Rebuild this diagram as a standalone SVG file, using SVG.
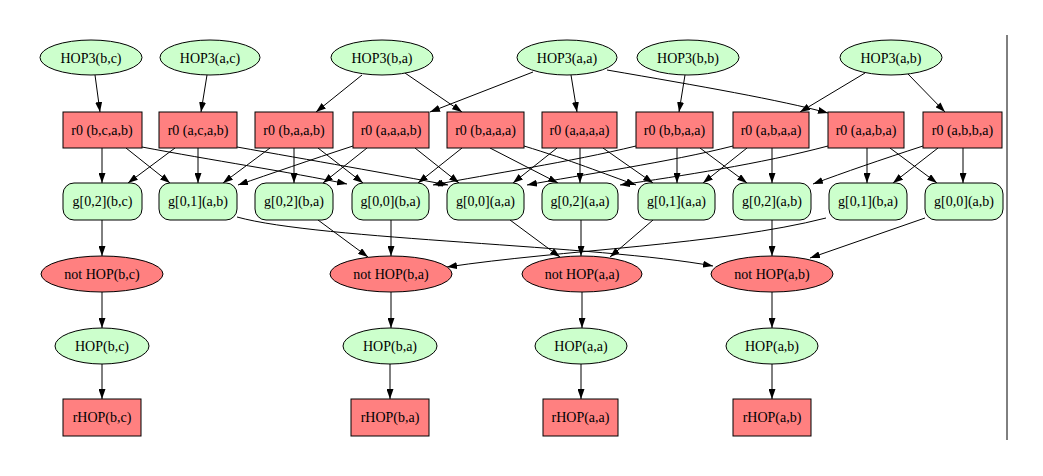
<svg xmlns="http://www.w3.org/2000/svg" width="1043" height="476" viewBox="0 0 1043 476">
<defs>
<marker id="ah" markerWidth="10" markerHeight="7" refX="10" refY="3.5" orient="auto" markerUnits="userSpaceOnUse">
<path d="M0,0 L10,3.5 L0,7 z" fill="#000"/>
</marker>
<style>
.g{fill:#ccffcc;stroke:#000;stroke-width:1}
.r{fill:#ff8080;stroke:#000;stroke-width:1}
text{font-family:"Liberation Serif","Times New Roman",serif;font-size:14px;text-anchor:middle;fill:#000}
#edges path{fill:none;stroke:#000;stroke-width:1;marker-end:url(#ah)}
</style>
</defs>
<rect width="1043" height="476" fill="#fff"/>
<line x1="1007" y1="35" x2="1007" y2="440" stroke="#000" stroke-width="1"/>
<g id="edges">
<path d="M95,75 L100,112"/>
<path d="M207,75 L201,112"/>
<path d="M362,75 L316,112"/>
<path d="M405,73 L462,112"/>
<path d="M533,72 L430,112"/>
<path d="M571,75 L577,112"/>
<path d="M607,70 C700,86 780,100 828,113"/>
<path d="M685,75 L679,112"/>
<path d="M865,73 L800,112"/>
<path d="M908,74 L945,112"/>
<path d="M102,148 L102,183"/>
<path d="M126,148 L170,183"/>
<path d="M142,147 C210,160 290,172 347,184"/>
<path d="M175,148 L128,183"/>
<path d="M198,148 L198,183"/>
<path d="M237,147 C310,160 390,174 448,185"/>
<path d="M270,148 L223,183"/>
<path d="M294,148 L294,183"/>
<path d="M318,148 L363,183"/>
<path d="M353,146 C310,160 270,174 238,185"/>
<path d="M367,148 L323,183"/>
<path d="M415,148 L459,183"/>
<path d="M462,148 L418,183"/>
<path d="M490,148 L558,183"/>
<path d="M524,146 C570,160 605,174 636,185"/>
<path d="M557,148 L513,183"/>
<path d="M580,148 L580,183"/>
<path d="M603,148 L653,183"/>
<path d="M636,146 C570,162 490,174 433,185"/>
<path d="M677,148 L677,183"/>
<path d="M700,148 L747,183"/>
<path d="M733,146 C670,162 580,175 527,185"/>
<path d="M747,148 L703,183"/>
<path d="M772,148 L772,183"/>
<path d="M828,146 C760,164 680,176 620,185"/>
<path d="M867,148 L867,183"/>
<path d="M890,148 L937,183"/>
<path d="M923,146 C880,160 845,172 813,184"/>
<path d="M938,148 L893,183"/>
<path d="M963,148 L963,183"/>
<path d="M102,220 L102,256"/>
<path d="M237,217 C320,240 600,245 713,266"/>
<path d="M318,220 L368,257"/>
<path d="M391,220 L391,256"/>
<path d="M510,220 L560,257"/>
<path d="M581,220 L581,256"/>
<path d="M653,220 L610,257"/>
<path d="M772,220 L772,256"/>
<path d="M826,218 C720,245 560,250 447,267"/>
<path d="M925,218 L810,258"/>
<path d="M102,292 L102,328"/>
<path d="M391,292 L391,328"/>
<path d="M582,292 L582,328"/>
<path d="M772,292 L772,328"/>
<path d="M102,364 L102,399"/>
<path d="M390,364 L390,399"/>
<path d="M581,364 L581,399"/>
<path d="M772,364 L772,399"/>
</g>
<g id="n_hop3_bc"><ellipse class="g" cx="91" cy="57.5" rx="51" ry="17.5"/><text x="91" y="62.5">HOP3(b,c)</text></g>
<g id="n_hop3_ac"><ellipse class="g" cx="210" cy="57.5" rx="50" ry="17.5"/><text x="210" y="62.5">HOP3(a,c)</text></g>
<g id="n_hop3_ba"><ellipse class="g" cx="382" cy="57.5" rx="51" ry="17.5"/><text x="382" y="62.5">HOP3(b,a)</text></g>
<g id="n_hop3_aa"><ellipse class="g" cx="567" cy="57.5" rx="50" ry="17.5"/><text x="567" y="62.5">HOP3(a,a)</text></g>
<g id="n_hop3_bb"><ellipse class="g" cx="688" cy="57.5" rx="51" ry="17.5"/><text x="688" y="62.5">HOP3(b,b)</text></g>
<g id="n_hop3_ab"><ellipse class="g" cx="891" cy="57.5" rx="51" ry="17.5"/><text x="891" y="62.5">HOP3(a,b)</text></g>
<g id="n_r0_bcab"><rect class="r" x="63" y="112" width="79" height="36"/><text x="102" y="135">r0 (b,c,a,b)</text></g>
<g id="n_r0_acab"><rect class="r" x="159" y="112" width="78" height="36"/><text x="198" y="135">r0 (a,c,a,b)</text></g>
<g id="n_r0_baab"><rect class="r" x="255" y="112" width="78" height="36"/><text x="294" y="135">r0 (b,a,a,b)</text></g>
<g id="n_r0_aaab"><rect class="r" x="353" y="112" width="76" height="36"/><text x="391" y="135">r0 (a,a,a,b)</text></g>
<g id="n_r0_baaa"><rect class="r" x="447" y="112" width="77" height="36"/><text x="485.5" y="135">r0 (b,a,a,a)</text></g>
<g id="n_r0_aaaa"><rect class="r" x="542" y="112" width="75" height="36"/><text x="579.5" y="135">r0 (a,a,a,a)</text></g>
<g id="n_r0_bbaa"><rect class="r" x="636" y="112" width="77" height="36"/><text x="674.5" y="135">r0 (b,b,a,a)</text></g>
<g id="n_r0_abaa"><rect class="r" x="733" y="112" width="76" height="36"/><text x="771" y="135">r0 (a,b,a,a)</text></g>
<g id="n_r0_aaba"><rect class="r" x="828" y="112" width="76" height="36"/><text x="866" y="135">r0 (a,a,b,a)</text></g>
<g id="n_r0_abba"><rect class="r" x="923" y="112" width="79" height="36"/><text x="962.5" y="135">r0 (a,b,b,a)</text></g>
<g id="n_g02_bc"><rect class="g" x="63" y="183" width="79" height="37" rx="11"/><text x="102.5" y="206">g[0,2](b,c)</text></g>
<g id="n_g01_ab"><rect class="g" x="159" y="183" width="78" height="37" rx="11"/><text x="198" y="206">g[0,1](a,b)</text></g>
<g id="n_g02_ba"><rect class="g" x="255" y="183" width="78" height="37" rx="11"/><text x="294" y="206">g[0,2](b,a)</text></g>
<g id="n_g00_ba"><rect class="g" x="352" y="183" width="77" height="37" rx="11"/><text x="390.5" y="206">g[0,0](b,a)</text></g>
<g id="n_g00_aa"><rect class="g" x="447" y="183" width="77" height="37" rx="11"/><text x="485.5" y="206">g[0,0](a,a)</text></g>
<g id="n_g02_aa"><rect class="g" x="542" y="183" width="76" height="37" rx="11"/><text x="580" y="206">g[0,2](a,a)</text></g>
<g id="n_g01_aa"><rect class="g" x="638" y="183" width="77" height="37" rx="11"/><text x="676.5" y="206">g[0,1](a,a)</text></g>
<g id="n_g02_ab"><rect class="g" x="733" y="183" width="78" height="37" rx="11"/><text x="772" y="206">g[0,2](a,b)</text></g>
<g id="n_g01_ba"><rect class="g" x="829" y="183" width="78" height="37" rx="11"/><text x="868" y="206">g[0,1](b,a)</text></g>
<g id="n_g00_ab"><rect class="g" x="925" y="183" width="78" height="37" rx="11"/><text x="964" y="206">g[0,0](a,b)</text></g>
<g id="n_not_bc"><ellipse class="r" cx="102" cy="274" rx="61" ry="18"/><text x="102" y="279">not HOP(b,c)</text></g>
<g id="n_not_ba"><ellipse class="r" cx="391" cy="274" rx="61" ry="18"/><text x="391" y="279">not HOP(b,a)</text></g>
<g id="n_not_aa"><ellipse class="r" cx="582" cy="274" rx="60" ry="18"/><text x="582" y="279">not HOP(a,a)</text></g>
<g id="n_not_ab"><ellipse class="r" cx="772" cy="274" rx="61" ry="18"/><text x="772" y="279">not HOP(a,b)</text></g>
<g id="n_hop_bc"><ellipse class="g" cx="102" cy="346" rx="47" ry="18"/><text x="102" y="351">HOP(b,c)</text></g>
<g id="n_hop_ba"><ellipse class="g" cx="390" cy="346" rx="47" ry="18"/><text x="390" y="351">HOP(b,a)</text></g>
<g id="n_hop_aa"><ellipse class="g" cx="581" cy="346" rx="46" ry="18"/><text x="581" y="351">HOP(a,a)</text></g>
<g id="n_hop_ab"><ellipse class="g" cx="772" cy="346" rx="46" ry="18"/><text x="772" y="351">HOP(a,b)</text></g>
<g id="n_rhop_bc"><rect class="r" x="63" y="399" width="78" height="37"/><text x="102" y="422">rHOP(b,c)</text></g>
<g id="n_rhop_ba"><rect class="r" x="351" y="399" width="78" height="37"/><text x="390" y="422">rHOP(b,a)</text></g>
<g id="n_rhop_aa"><rect class="r" x="543" y="399" width="75" height="37"/><text x="580.5" y="422">rHOP(a,a)</text></g>
<g id="n_rhop_ab"><rect class="r" x="733" y="399" width="78" height="37"/><text x="772" y="422">rHOP(a,b)</text></g>
</svg>
